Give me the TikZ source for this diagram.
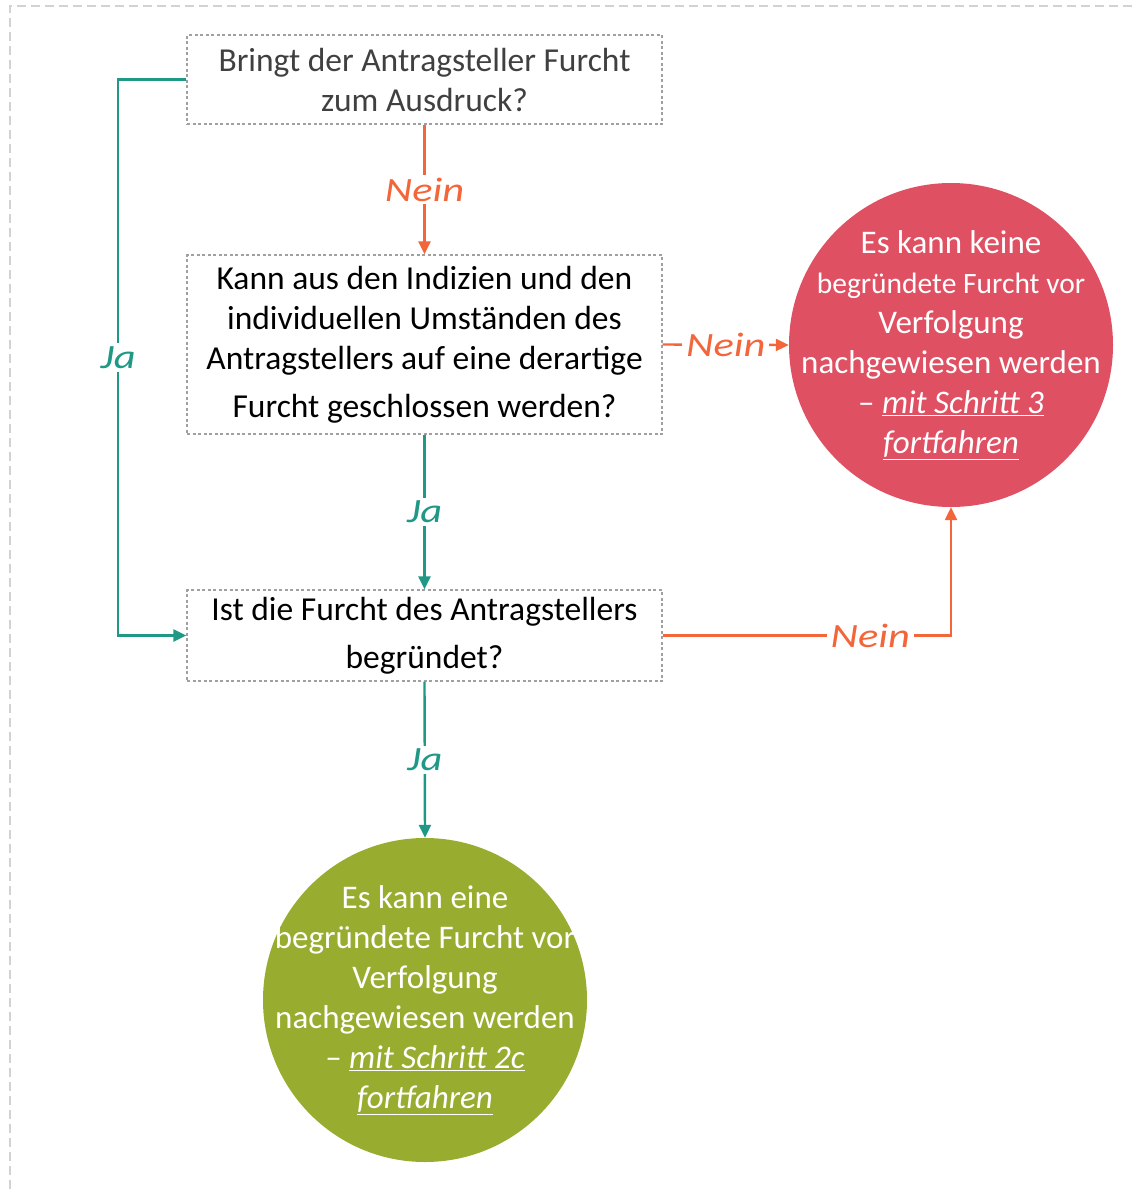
\documentclass[tikz,border=0pt]{standalone}
\usepackage{fontspec}
\setmainfont{Carlito}
\newfontfamily\handfont{Carlito}
\usetikzlibrary{arrows.meta}
\definecolor{jaTeal}{RGB}{31,152,133}
\definecolor{neinOrange}{RGB}{243,102,58}
\definecolor{stopRed}{RGB}{224,80,99}
\definecolor{goGreen}{RGB}{152,173,47}
\definecolor{boxGray}{RGB}{160,160,160}
\definecolor{frameGray}{RGB}{210,210,210}
\definecolor{darkText}{RGB}{64,64,64}
\tikzset{
  question/.style={draw=boxGray, line width=1.4pt, dash pattern=on 3pt off 2.5pt,
    minimum width=475pt, inner sep=0pt, align=center,
    font=\fontsize{33.5}{40}\selectfont},
  verdict/.style={circle, minimum size=324pt, inner sep=0pt},
  verdicttext/.style={align=center, inner sep=0pt, text=white,
    font=\fontsize{33}{40}\selectfont},
  link/.style={line width=2.4pt, -{Triangle[length=13pt,width=12pt]}},
  jalink/.style={link, draw=jaTeal},
  neinlink/.style={link, draw=neinOrange},
  answer/.style={fill=white, inner sep=3pt, font=\handfont\itshape\fontsize{34}{34}\selectfont, xscale=1.25},
}
\newcommand{\stepnote}[1]{\textit{\underline{#1}}}
\begin{document}
\begin{tikzpicture}[x=1pt, y=-1pt]
  \useasboundingbox (0,0) rectangle (1135,1189);
  % outer dashed frame (open to the right and bottom)
  \draw[frameGray, line width=1.6pt, dash pattern=on 9pt off 5pt]
    (10,1189) -- (10,6) -- (1135,6);

  % question boxes
  \node[question, minimum height=89pt, text=darkText] (b1) at (424.5,79.5)
    {Bringt der Antragsteller Furcht\\zum Ausdruck?};
  \node[question, minimum height=179pt] (b2) at (424.5,344.5)
    {Kann aus den Indizien und den\\individuellen Umständen des\\Antragstellers auf eine derartige\\[8pt]Furcht geschlossen werden?};
  \node[question, minimum height=91pt] (b3) at (424.5,635.5)
    {Ist die Furcht des Antragstellers\\[8pt]begründet?};

  % outcomes
  \node[verdict, fill=stopRed] (red) at (951,345) {};
  \node[verdicttext] (redtext) at (red.center)
    {Es kann keine\\{\fontsize{29.5}{40}\selectfont begründete Furcht vor}\\Verfolgung\\nachgewiesen werden\\– \stepnote{mit Schritt 3}\\\stepnote{fortfahren}};
  \node[verdict, fill=goGreen] (green) at (425,1000) {};
  \node[verdicttext] (greentext) at (green.center)
    {Es kann eine\\begründete Furcht vor\\Verfolgung\\nachgewiesen werden\\– \stepnote{mit Schritt 2c}\\\stepnote{fortfahren}};

  % connectors
  \draw[neinlink] (b1.south) -- node[answer, text=neinOrange] {Nein} (b2.north);
  \draw[jalink] (b1.west) -- (118,79.5) |- node[pos=0.25, answer, text=jaTeal] {Ja} (b3.west);
  \draw[neinlink] (b2.east) -- node[answer, text=neinOrange] {Nein} (red.west);
  \draw[jalink] (b2.south) -- node[answer, text=jaTeal] {Ja} (b3.north);
  \draw[neinlink] (b3.east) -| node[pos=0.36, answer, text=neinOrange] {Nein} (red.south);
  \draw[jalink] (b3.south) -- node[answer, text=jaTeal] {Ja} (green.north);
\end{tikzpicture}
\end{document}
